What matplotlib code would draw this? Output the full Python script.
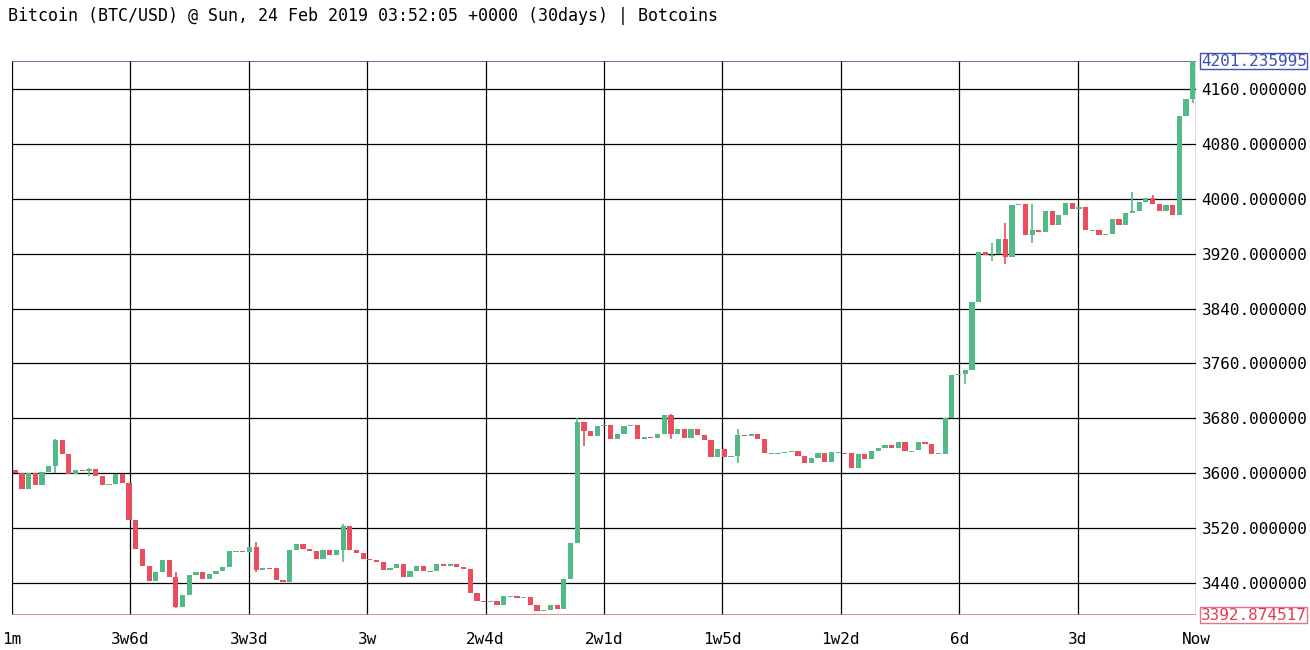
import numpy as np
import matplotlib.pyplot as plt

# 4h closes, oldest first (open = previous close)
closes = [
    3600, 3577, 3600, 3583, 3602, 3610, 3648, 3628, 3598, 3605,
    3603, 3606, 3595, 3583, 3584, 3598, 3586, 3531, 3489, 3464,
    3443, 3455, 3473, 3448, 3405, 3422, 3451, 3456, 3446, 3452,
    3457, 3463, 3486, 3486, 3485, 3492, 3459, 3462, 3461, 3444,
    3441,
    3487, 3496, 3489, 3486, 3474, 3488, 3481, 3488, 3523, 3487,
    3484, 3475, 3473, 3470, 3459, 3462, 3467, 3449, 3457, 3465,
    3457, 3457, 3468, 3465, 3467, 3463, 3460, 3425, 3413, 3412,
    3413, 3407, 3420, 3420, 3417, 3419, 3407, 3398, 3400, 3407,
    3402, 3445, 3498, 3675, 3661, 3654, 3669, 3670,
    3649, 3657, 3669, 3670, 3649, 3653, 3651, 3657, 3685, 3657,
    3664, 3651, 3665, 3656, 3648, 3624, 3635, 3624, 3625, 3656,
    3654, 3657, 3649, 3629, 3629, 3630, 3630, 3632, 3625, 3614,
    3622, 3629, 3616, 3630, 3630, 3629, 3608, 3628, 3620, 3632,
    3637, 3641, 3637, 3645, 3632, 3633, 3645, 3642, 3628, 3628,
    3680,
    3743, 3745, 3750, 3850, 3922, 3918, 3919, 3941, 3915, 3991,
    3993, 3947, 3955, 3951, 3983, 3962, 3977, 3994, 3986, 3988,
    3954, 3954, 3947, 3949, 3971, 3962, 3980, 3983, 3995, 4002,
    3993, 3983, 3991, 3977, 4121, 4146, 4201.235995,
]
first_open = 3605
# a few visible wicks: index -> (low, high)
wicks = {6: (3600, 3650), 11: (3596, 3608), 24: (3403, 3456), 36: (3455, 3500),
         49: (3470, 3525), 84: (3660, 3680), 85: (3640, 3668), 98: (3650, 3686),
         108: (3615, 3664), 142: (3730, 3746), 146: (3910, 3935), 148: (3905, 3965),
         152: (3935, 3993), 167: (3990, 4010), 170: (3995, 4005), 176: (4140, 4201)}

y_min, y_max = 3392.874517, 4201.235995
y_ticks = [3440, 3520, 3600, 3680, 3760, 3840, 3920, 4000, 4080, 4160]
x_labels = ['1m', '3w6d', '3w3d', '3w', '2w4d', '2w1d', '1w5d', '1w2d', '6d', '3d', 'Now']

green, red = '#53b987', '#eb4d5c'
mono = 'DejaVu Sans Mono'

closes = np.array(closes, dtype=float)
opens = np.concatenate([[first_open], closes[:-1]])
n = len(closes)
x = np.arange(n)

fig = plt.figure(figsize=(13.1, 6.5), dpi=100)
ax = fig.add_axes([12 / 1310, 1 - 615 / 650, (1196 - 12) / 1310, (615 - 61) / 650])

xt = np.linspace(-0.5, n - 0.5, 11)
for v in xt:
    ax.axvline(v, color='black', lw=0.9, zorder=0)
for v in y_ticks:
    ax.axhline(v, color='black', lw=0.9, zorder=0)
ax.axhline(y_max, color='#3f51b5', lw=1.2, zorder=0)
ax.axhline(y_min, color='#e57380', lw=1.2, zorder=0)

for i in range(n):
    o, c = opens[i], closes[i]
    col = green if c >= o else red
    lo, hi = min(o, c), max(o, c)
    if i in wicks:
        wl, wh = wicks[i]
        ax.vlines(i, min(wl, lo), max(wh, hi), color=col, lw=1.2, zorder=2)
    h = max(hi - lo, 1.5)
    ax.bar(i, h, bottom=lo if hi - lo >= 1.5 else lo - 0.75, width=0.78,
           color=col, zorder=3, linewidth=0)

ax.set_xlim(-0.5, n - 0.5)
ax.set_ylim(y_min, y_max)
for s in ax.spines.values():
    s.set_visible(False)
ax.set_xticks(xt)
ax.set_xticklabels(x_labels, fontfamily=mono, fontsize=11.5)
ax.set_yticks(y_ticks)
ax.set_yticklabels(['%.6f' % v for v in y_ticks], fontfamily=mono, fontsize=11.5)
ax.yaxis.tick_right()
ax.tick_params(length=0, pad=4)
ax.tick_params(axis='x', pad=12)

ax.text(1.004, y_max, '%.6f' % y_max, transform=ax.get_yaxis_transform(),
        fontfamily=mono, fontsize=11.5, color='#3f51b5', va='center', ha='left',
        bbox=dict(boxstyle='square,pad=0.05', fc='white', ec='#3f51b5', lw=1))
ax.text(1.004, y_min, '%.6f' % y_min, transform=ax.get_yaxis_transform(),
        fontfamily=mono, fontsize=11.5, color='#e53950', va='center', ha='left',
        bbox=dict(boxstyle='square,pad=0.05', fc='white', ec='#e57380', lw=1))

fig.text(8 / 1310, 1 - 16 / 650, 'Bitcoin (BTC/USD) @ Sun, 24 Feb 2019 03:52:05 +0000 (30days) | Botcoins',
         fontfamily=mono, fontsize=12, va='center', ha='left')

fig.savefig('out.png', dpi=100)
